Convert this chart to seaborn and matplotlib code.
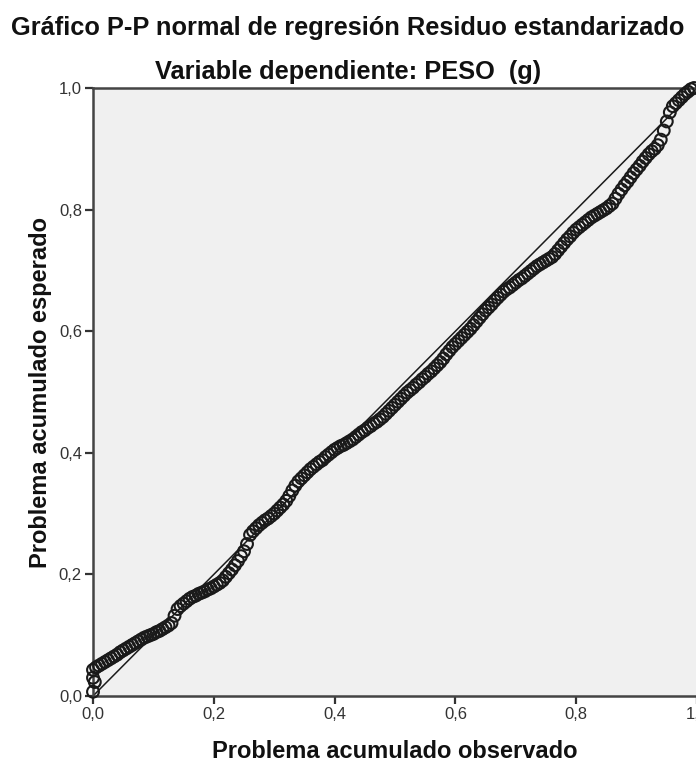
import matplotlib
matplotlib.use("Agg")
import matplotlib.pyplot as plt
import seaborn as sns
import pandas as pd

# Observed cumulative probability (x) and expected cumulative probability (y)
observed = [
    0.000, 0.003, 0.000,
    0.000, 0.005, 0.010, 0.015, 0.020, 0.025, 0.030, 0.035, 0.040, 0.045,
    0.050, 0.055, 0.060, 0.065, 0.070, 0.075, 0.080, 0.085, 0.090, 0.095,
    0.100, 0.105, 0.110, 0.115, 0.120, 0.125, 0.130, 0.135, 0.140, 0.145,
    0.150, 0.155, 0.160, 0.165, 0.170, 0.175, 0.180, 0.185, 0.190, 0.195,
    0.200, 0.205, 0.210, 0.215, 0.220, 0.225, 0.230, 0.235, 0.240, 0.245,
    0.250, 0.255, 0.260, 0.265, 0.270, 0.275, 0.280, 0.285, 0.290, 0.295,
    0.300, 0.305, 0.310, 0.315, 0.320, 0.325, 0.330, 0.335, 0.340, 0.345,
    0.350, 0.355, 0.360, 0.365, 0.370, 0.375, 0.380, 0.385, 0.390, 0.395,
    0.400, 0.405, 0.410, 0.415, 0.420, 0.425, 0.430, 0.435, 0.440, 0.445,
    0.450, 0.455, 0.460, 0.465, 0.470, 0.475, 0.480, 0.485, 0.490, 0.495,
    0.500, 0.505, 0.510, 0.515, 0.520, 0.525, 0.530, 0.535, 0.540, 0.545,
    0.550, 0.555, 0.560, 0.565, 0.570, 0.575, 0.580, 0.585, 0.590, 0.595,
    0.600, 0.605, 0.610, 0.615, 0.620, 0.625, 0.630, 0.635, 0.640, 0.645,
    0.650, 0.655, 0.660, 0.665, 0.670, 0.675, 0.680, 0.685, 0.690, 0.695,
    0.700, 0.705, 0.710, 0.715, 0.720, 0.725, 0.730, 0.735, 0.740, 0.745,
    0.750, 0.755, 0.760, 0.765, 0.770, 0.775, 0.780, 0.785, 0.790, 0.795,
    0.800, 0.805, 0.810, 0.815, 0.820, 0.825, 0.830, 0.835, 0.840, 0.845,
    0.850, 0.855, 0.860, 0.865, 0.870, 0.875, 0.880, 0.885, 0.890, 0.895,
    0.900, 0.905, 0.910, 0.915, 0.920, 0.925, 0.930, 0.935, 0.940, 0.945,
    0.950, 0.955, 0.960, 0.965, 0.970, 0.975, 0.980, 0.985, 0.990, 0.995,
]
expected = [
    0.007, 0.023, 0.030,
    0.043, 0.047, 0.050, 0.053, 0.056, 0.059, 0.062, 0.065, 0.068, 0.072,
    0.075, 0.078, 0.081, 0.084, 0.087, 0.090, 0.093, 0.096, 0.098, 0.100,
    0.102, 0.105, 0.107, 0.110, 0.113, 0.116, 0.120, 0.132, 0.143, 0.148,
    0.152, 0.156, 0.160, 0.163, 0.165, 0.168, 0.170, 0.172, 0.175, 0.177,
    0.180, 0.183, 0.186, 0.190, 0.196, 0.202, 0.208, 0.215, 0.222, 0.230,
    0.238, 0.250, 0.265, 0.271, 0.276, 0.281, 0.285, 0.289, 0.292, 0.296,
    0.300, 0.305, 0.310, 0.315, 0.321, 0.329, 0.338, 0.346, 0.353, 0.358,
    0.363, 0.368, 0.373, 0.377, 0.381, 0.385, 0.388, 0.393, 0.397, 0.401,
    0.405, 0.408, 0.411, 0.413, 0.416, 0.419, 0.422, 0.426, 0.430, 0.434,
    0.437, 0.441, 0.444, 0.448, 0.451, 0.455, 0.459, 0.464, 0.469, 0.474,
    0.479, 0.484, 0.489, 0.494, 0.499, 0.503, 0.507, 0.512, 0.516, 0.521,
    0.525, 0.530, 0.534, 0.539, 0.544, 0.549, 0.555, 0.562, 0.568, 0.574,
    0.579, 0.584, 0.589, 0.594, 0.599, 0.604, 0.610, 0.616, 0.622, 0.628,
    0.634, 0.639, 0.644, 0.650, 0.655, 0.660, 0.665, 0.669, 0.672, 0.676,
    0.680, 0.684, 0.687, 0.691, 0.695, 0.699, 0.703, 0.707, 0.710, 0.713,
    0.716, 0.719, 0.722, 0.727, 0.733, 0.739, 0.745, 0.751, 0.756, 0.762,
    0.767, 0.771, 0.775, 0.779, 0.783, 0.787, 0.790, 0.793, 0.796, 0.799,
    0.802, 0.806, 0.810, 0.818, 0.826, 0.833, 0.840, 0.846, 0.853, 0.860,
    0.866, 0.872, 0.879, 0.885, 0.891, 0.896, 0.900, 0.906, 0.915, 0.930,
    0.945, 0.960, 0.970, 0.975, 0.980, 0.985, 0.990, 0.994, 0.998, 1.000,
]

tick_values = [0.0, 0.2, 0.4, 0.6, 0.8, 1.0]
tick_labels = ["0,0", "0,2", "0,4", "0,6", "0,8", "1,0"]

title = "Gráfico P-P normal de regresión Residuo estandarizado"
subtitle = "Variable dependiente: PESO  (g)"
xlabel = "Problema acumulado observado"
ylabel = "Problema acumulado esperado"

sns.set_theme(style="white")
plt.rcParams["font.family"] = ["Liberation Sans", "DejaVu Sans"]

df = pd.DataFrame({"observed": observed, "expected": expected})

fig = plt.figure(figsize=(6.96, 7.67), dpi=100)
ax = fig.add_axes([93 / 696, 71 / 767, 604 / 696, 608 / 767])
ax.set_facecolor("#f0f0f0")

ax.plot([0, 1], [0, 1], color="#1a1a1a", lw=1.1, zorder=2)
sns.scatterplot(data=df, x="observed", y="expected", ax=ax, marker="o",
                s=72, facecolor="none", edgecolor="#1a1a1a", linewidth=1.5,
                zorder=3, clip_on=False)

ax.set_xlim(0, 1)
ax.set_ylim(0, 1)
ax.set_xticks(tick_values)
ax.set_xticklabels(tick_labels)
ax.set_yticks(tick_values)
ax.set_yticklabels(tick_labels)
ax.tick_params(axis="both", direction="out", length=6, width=1.6,
               color="#333333", labelsize=12, labelcolor="#333333",
               bottom=True, left=True, pad=2)

for side in ["left", "bottom", "top", "right"]:
    ax.spines[side].set_color("#444444")
    ax.spines[side].set_linewidth(1.8)

ax.set_xlabel(xlabel, fontsize=17, fontweight="bold", labelpad=13, color="#111111")
ax.set_ylabel(ylabel, fontsize=17, fontweight="bold", labelpad=5, color="#111111")

fig.text(0.5, 1 - 28 / 767, title, ha="center", va="center",
         fontsize=18.3, fontweight="bold", color="#111111")
fig.text(0.5, 1 - 72 / 767, subtitle, ha="center", va="center",
         fontsize=18.3, fontweight="bold", color="#111111")

fig.savefig("out.png", dpi=100)
